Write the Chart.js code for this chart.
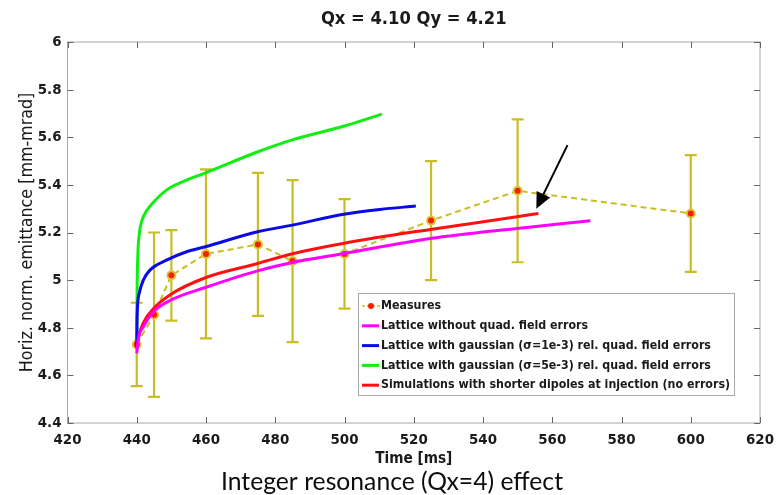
<!DOCTYPE html>
<html>
<head>
<meta charset="utf-8">
<script src="https://cdn.jsdelivr.net/npm/chart.js@4.4.1/dist/chart.umd.min.js"></script>
<style>
  html, body { margin: 0; padding: 0; background: #fff; }
  #wrap { width: 784px; height: 495px; }
</style>
</head>
<body>
<div id="wrap"><canvas id="chart" width="784" height="495"></canvas></div>
<script>
// measured points with error bars (time in ms, emittance in mm-mrad)
const measT = [440, 445, 450, 460, 475, 485, 500, 525, 550, 600];
const measE = [4.73, 4.855, 5.02, 5.11, 5.15, 5.08, 5.11, 5.25, 5.375, 5.28];
const measErr = [0.175, 0.345, 0.19, 0.355, 0.30, 0.34, 0.23, 0.25, 0.30, 0.245];

// simulated curves
const magentaT = [440, 440.4, 441.9, 444.8, 449.8, 459.8, 474.9, 484.7, 499.9, 524.8, 549.8, 571];
const magentaE = [4.692, 4.75, 4.804, 4.867, 4.916, 4.969, 5.039, 5.073, 5.112, 5.175, 5.217, 5.249];

const blueT = [440, 440.1, 440.7, 441.9, 443.8, 448.6, 454.4, 459.8, 474.9, 484.9, 499.8, 510.2, 520.6];
const blueE = [4.72, 4.846, 4.944, 5.0, 5.042, 5.084, 5.119, 5.14, 5.203, 5.231, 5.277, 5.297, 5.311];

const greenT = [440, 440.1, 440.3, 440.7, 441.5, 442.8, 444.5, 448.6, 454.4, 459.8, 475, 484.7, 500, 510.8];
const greenE = [4.72, 4.95, 5.10, 5.19, 5.25, 5.29, 5.322, 5.378, 5.42, 5.45, 5.539, 5.588, 5.647, 5.697];

const redT = [440, 440.5, 441.9, 444.8, 449.8, 459.8, 474.9, 484.7, 499.9, 524.8, 549.8, 556];
const redE = [4.71, 4.76, 4.82, 4.88, 4.94, 5.01, 5.07, 5.11, 5.155, 5.213, 5.266, 5.28];

const xTicks = [420, 440, 460, 480, 500, 520, 540, 560, 580, 600, 620];
const yTicks = [4.4, 4.6, 4.8, 5, 5.2, 5.4, 5.6, 5.8, 6];

const labels = [
  "Measures",
  "Lattice without quad. field errors",
  "Lattice with gaussian (\u03C3=1e-3) rel. quad. field errors",
  "Lattice with gaussian (\u03C3=5e-3) rel. quad. field errors",
  "Simulations with shorter dipoles at injection (no errors)"
];

// arrow annotation, in data units
const arrowFrom = [564.4, 5.567];
const arrowTo = [555.4, 5.30];

const yellow = "#c9bd26";

const probe = document.createElement("canvas").getContext("2d");
function hasFont(name) {
  probe.font = "20px monospace";
  const a = probe.measureText("abcdefghij").width;
  probe.font = `20px "${name}", monospace`;
  return probe.measureText("abcdefghij").width !== a;
}
const narrowName = ["Liberation Sans Narrow", "DejaVu Sans Condensed", "Roboto Condensed", "Arial Narrow"].find(hasFont);
const sans = (narrowName ? `"${narrowName}", ` : "") + "'Liberation Sans', Arial, sans-serif";

// font size that makes a text as wide as in the picture
function fit(text, weight, family, target) {
  probe.font = `${weight} 100px ${family}`;
  return Math.round(100 * target / probe.measureText(text).width * 10) / 10;
}

const titleSize = fit("Qx = 4.10 Qy = 4.21", "bold", sans, 186);
const tickSize = fit("420", "bold", sans, 28);
const xTitleSize = fit("Time [ms]", "bold", sans, 77);
const legendSize = fit(labels[4], "bold", sans, 350);
const yTitleFamily = sans;
const yTitleSize = fit("Horiz. norm. emittance [mm-mrad]", "normal", yTitleFamily, 280);
const subFamily = "Lato, 'Open Sans', sans-serif";
const subSize = fit("Integer resonance (Qx=4) effect", "normal", subFamily, 342);

const pts = (xs, ys) => xs.map((x, i) => ({ x: x, y: ys[i] }));

// error bars drawn under the curves
const errorBars = {
  id: "errorBars",
  beforeDatasetsDraw(chart) {
    const { ctx, scales: { x, y } } = chart;
    ctx.save();
    ctx.strokeStyle = yellow;
    ctx.lineWidth = 2.2;
    measT.forEach((t, i) => {
      const px = x.getPixelForValue(t);
      const top = y.getPixelForValue(measE[i] + measErr[i]);
      const bot = y.getPixelForValue(measE[i] - measErr[i]);
      ctx.beginPath();
      ctx.moveTo(px, top); ctx.lineTo(px, bot);
      ctx.moveTo(px - 6, top); ctx.lineTo(px + 6, top);
      ctx.moveTo(px - 6, bot); ctx.lineTo(px + 6, bot);
      ctx.stroke();
    });
    ctx.restore();
  }
};

// matlab style frame with inward ticks, arrow, legend box
const decor = {
  id: "decor",
  afterDatasetsDraw(chart) {
    const { ctx, chartArea: a, scales: { x, y } } = chart;
    ctx.save();
    ctx.strokeStyle = "#a8a8a8";
    ctx.lineWidth = 1;
    ctx.strokeRect(a.left, a.top, a.right - a.left, a.bottom - a.top);
    ctx.strokeStyle = "#666";
    ctx.beginPath();
    xTicks.forEach(v => {
      const px = Math.round(x.getPixelForValue(v)) + 0.5;
      ctx.moveTo(px, a.bottom); ctx.lineTo(px, a.bottom - 6);
      ctx.moveTo(px, a.top); ctx.lineTo(px, a.top + 6);
    });
    yTicks.forEach(v => {
      const py = Math.round(y.getPixelForValue(v)) + 0.5;
      ctx.moveTo(a.left, py); ctx.lineTo(a.left + 6, py);
      ctx.moveTo(a.right, py); ctx.lineTo(a.right - 6, py);
    });
    ctx.stroke();

    // arrow
    const x0 = x.getPixelForValue(arrowFrom[0]), y0 = y.getPixelForValue(arrowFrom[1]);
    const x1 = x.getPixelForValue(arrowTo[0]), y1 = y.getPixelForValue(arrowTo[1]);
    const ang = Math.atan2(y1 - y0, x1 - x0);
    const hl = 16, hw = 7.5;
    const c = Math.cos(ang), s = Math.sin(ang);
    ctx.strokeStyle = "#000";
    ctx.fillStyle = "#000";
    ctx.lineWidth = 2;
    ctx.beginPath();
    ctx.moveTo(x0, y0);
    ctx.lineTo(x1 - hl * c, y1 - hl * s);
    ctx.stroke();
    ctx.beginPath();
    ctx.moveTo(x1, y1);
    ctx.lineTo(x1 - hl * c + hw * s, y1 - hl * s - hw * c);
    ctx.lineTo(x1 - hl * c - hw * s, y1 - hl * s + hw * c);
    ctx.closePath();
    ctx.fill();
    ctx.restore();
  },
  afterDraw(chart) {
    const ctx = chart.ctx;
    const ds = chart.data.datasets;
    const bx = 358, by = 293, bw = 376, bh = 102;
    ctx.save();
    ctx.fillStyle = "#fff";
    ctx.fillRect(bx, by, bw, bh);
    ctx.strokeStyle = "#a8a8a8";
    ctx.lineWidth = 1;
    ctx.strokeRect(bx + 0.5, by + 0.5, bw, bh);
    ctx.font = `bold ${legendSize}px ${sans}`;
    ctx.textBaseline = "middle";
    ds.forEach((d, i) => {
      const ry = by + 13 + i * 19.8;
      if (i === 0) {
        ctx.strokeStyle = yellow;
        ctx.lineWidth = 1.5;
        ctx.setLineDash([3, 2]);
        ctx.beginPath(); ctx.moveTo(bx + 4, ry); ctx.lineTo(bx + 22, ry); ctx.stroke();
        ctx.setLineDash([]);
        ctx.beginPath(); ctx.arc(bx + 13, ry, 3, 0, Math.PI * 2);
        ctx.fillStyle = "#ff1a00"; ctx.fill();
      } else {
        ctx.strokeStyle = d.borderColor;
        ctx.lineWidth = 3;
        ctx.beginPath(); ctx.moveTo(bx + 4, ry); ctx.lineTo(bx + 21, ry); ctx.stroke();
      }
      ctx.fillStyle = "#1a1a1a";
      ctx.fillText(d.label, bx + 23, ry);
    });
    ctx.restore();
  }
};

const curve = (label, xs, ys, color) => ({
  label: label,
  data: pts(xs, ys),
  borderColor: color,
  backgroundColor: color,
  borderWidth: 3,
  pointRadius: 0,
  cubicInterpolationMode: "monotone",
  yAxisID: "y",
  order: 1
});

new Chart(document.getElementById("chart"), {
  type: "line",
  data: {
    datasets: [
      {
        label: labels[0],
        data: pts(measT, measE),
        borderColor: yellow,
        borderWidth: 2,
        borderDash: [6, 4],
        pointRadius: 4,
        pointBackgroundColor: "#ff1a00",
        pointBorderColor: "#d8c838",
        pointBorderWidth: 2,
        yAxisID: "y",
        order: 5
      },
      curve(labels[1], magentaT, magentaE, "#ff00ff"),
      curve(labels[2], blueT, blueE, "#0a0ae6"),
      curve(labels[3], greenT, greenE, "#11ee11"),
      curve(labels[4], redT, redE, "#ff1010")
    ]
  },
  options: {
    responsive: false,
    devicePixelRatio: 1,
    animation: false,
    layout: { padding: 0 },
    plugins: {
      legend: { display: false },
      tooltip: { enabled: false },
      title: {
        display: true,
        fullSize: false,
        text: "Qx = 4.10 Qy = 4.21",
        color: "#1a1a1a",
        font: { family: sans, size: titleSize, weight: "bold", lineHeight: 1.2 },
        padding: { top: 42 - titleSize * 1.2 - 12, bottom: 12 }
      },
      subtitle: {
        display: true,
        position: "bottom",
        text: "Integer resonance (Qx=4) effect",
        color: "#0d0d0d",
        font: { family: subFamily, size: subSize, lineHeight: 1 },
        padding: { top: 0, bottom: 1 }
      }
    },
    scales: {
      x: {
        type: "linear",
        min: 420, max: 620,
        afterBuildTicks: s => { s.ticks = xTicks.map(v => ({ value: v })); },
        afterFit: s => { s.height = 495 - 1 - subSize - 423; },
        grid: { display: false, drawTicks: false },
        border: { display: false },
        ticks: {
          color: "#1a1a1a",
          font: { family: sans, size: tickSize, weight: "bold" },
          padding: 8,
          maxRotation: 0,
          autoSkip: false,
          callback: v => String(v)
        },
        title: {
          display: true,
          text: "Time [ms]",
          color: "#1a1a1a",
          font: { family: sans, size: xTitleSize, weight: "bold", lineHeight: 1.2 },
          padding: { top: 0, bottom: 1 }
        }
      },
      y: {
        type: "linear",
        min: 4.4, max: 6,
        afterBuildTicks: s => { s.ticks = yTicks.map(v => ({ value: v })); },
        afterFit: s => { s.width = 67.5; },
        grid: { display: false, drawTicks: false },
        border: { display: false },
        ticks: {
          color: "#1a1a1a",
          font: { family: sans, size: tickSize, weight: "bold" },
          padding: 6,
          autoSkip: false,
          callback: v => String(Math.round(v * 10) / 10)
        },
        title: {
          display: true,
          text: "Horiz. norm. emittance [mm-mrad]",
          color: "#1a1a1a",
          font: { family: yTitleFamily, size: yTitleSize, lineHeight: 1.2 },
          padding: { top: 27 - yTitleSize * 0.6, bottom: 0 }
        }
      },
      yRight: {
        type: "linear",
        position: "right",
        min: 4.4, max: 6,
        afterFit: s => { s.width = 24; },
        grid: { display: false, drawTicks: false },
        border: { display: false },
        ticks: { display: false }
      }
    }
  },
  plugins: [errorBars, decor]
});
</script>
</body>
</html>
